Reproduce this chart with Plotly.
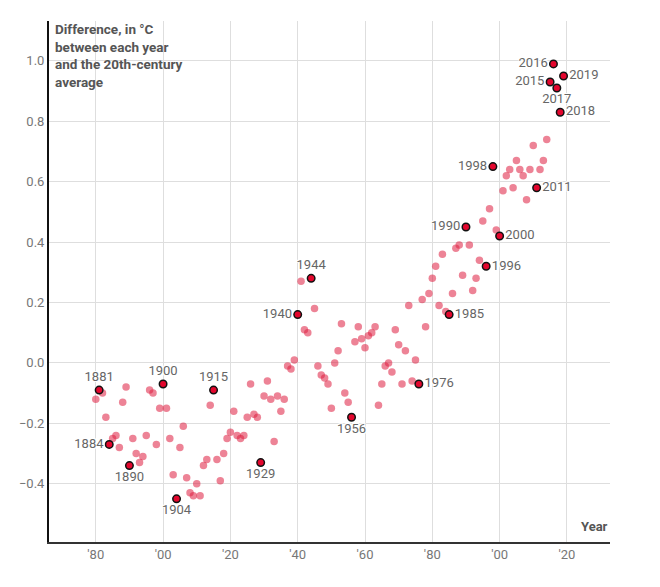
import plotly.graph_objects as go

years = list(range(1880, 2020))
anomalies = [
    -0.12, -0.09, -0.10, -0.18, -0.27, -0.25, -0.24, -0.28, -0.13, -0.08,  # 1880s
    -0.34, -0.25, -0.30, -0.33, -0.31, -0.24, -0.09, -0.10, -0.27, -0.15,  # 1890s
    -0.07, -0.15, -0.25, -0.37, -0.45, -0.28, -0.21, -0.38, -0.43, -0.44,  # 1900s
    -0.40, -0.44, -0.34, -0.32, -0.14, -0.09, -0.32, -0.39, -0.30, -0.25,  # 1910s
    -0.23, -0.16, -0.24, -0.25, -0.24, -0.18, -0.07, -0.17, -0.18, -0.33,  # 1920s
    -0.11, -0.06, -0.12, -0.26, -0.11, -0.16, -0.12, -0.01, -0.02, 0.01,   # 1930s
    0.16, 0.27, 0.11, 0.10, 0.28, 0.18, -0.01, -0.04, -0.05, -0.07,        # 1940s
    -0.15, 0.00, 0.04, 0.13, -0.10, -0.13, -0.18, 0.07, 0.12, 0.08,        # 1950s
    0.05, 0.09, 0.10, 0.12, -0.14, -0.07, -0.01, 0.00, -0.03, 0.11,        # 1960s
    0.06, -0.07, 0.04, 0.19, -0.06, 0.01, -0.07, 0.21, 0.12, 0.23,         # 1970s
    0.28, 0.32, 0.19, 0.36, 0.17, 0.16, 0.23, 0.38, 0.39, 0.29,            # 1980s
    0.45, 0.39, 0.24, 0.28, 0.34, 0.47, 0.32, 0.51, 0.65, 0.44,            # 1990s
    0.42, 0.57, 0.62, 0.64, 0.58, 0.67, 0.64, 0.62, 0.54, 0.64,            # 2000s
    0.72, 0.58, 0.64, 0.67, 0.74, 0.93, 0.99, 0.91, 0.83, 0.95,            # 2010s
]

highlight_years = [1881, 1884, 1890, 1900, 1904, 1915, 1929, 1940, 1944, 1956,
                   1976, 1985, 1990, 1996, 1998, 2000, 2011, 2015, 2016, 2017,
                   2018, 2019]

tick_years = [1880, 1900, 1920, 1940, 1960, 1980, 2000, 2020]
tick_labels = ["'80", "'00", "'20", "'40", "'60", "'80", "'00", "'20"]
y_ticks = [-0.4, -0.2, 0.0, 0.2, 0.4, 0.6, 0.8, 1.0]

# label placement (style)
label_pos = {
    1881: "top center", 1884: "middle left", 1890: "bottom center",
    1900: "top center", 1904: "bottom center", 1915: "top center",
    1929: "bottom center", 1940: "middle left", 1944: "top center",
    1956: "bottom center", 1976: "middle right", 1985: "middle right",
    1990: "middle left", 1996: "middle right", 1998: "middle left",
    2000: "middle right", 2011: "middle right", 2015: "middle left",
    2016: "middle left", 2017: "bottom center", 2018: "middle right",
    2019: "middle right",
}

lookup = dict(zip(years, anomalies))
base_x = [y for y in years if y not in highlight_years]
base_y = [lookup[y] for y in base_x]
hi_y = [lookup[y] for y in highlight_years]

fig = go.Figure()
fig.add_trace(go.Scatter(
    x=base_x, y=base_y, mode="markers",
    marker=dict(size=7.5, color="rgba(222,30,64,0.55)", line=dict(width=0)),
    hoverinfo="x+y", showlegend=False,
))
fig.add_trace(go.Scatter(
    x=highlight_years, y=hi_y, mode="markers+text",
    text=[str(y) for y in highlight_years],
    textposition=[label_pos[y] for y in highlight_years],
    textfont=dict(family="Roboto", size=13, color="#666",
                  shadow="1px 1px 0 #fff, -1px -1px 0 #fff, 1px -1px 0 #fff, -1px 1px 0 #fff"),
    marker=dict(size=7.5, color="#e3062d", line=dict(width=1.5, color="#111")),
    hoverinfo="x+y", showlegend=False, cliponaxis=False,
))

fig.update_layout(
    width=652, height=579,
    margin=dict(l=41, r=50, t=13, b=45),
    paper_bgcolor="white", plot_bgcolor="white",
    font=dict(family="Roboto", size=13, color="#666"),
    xaxis=dict(
        range=[1866.1, 2032.8], tickvals=tick_years, ticktext=tick_labels,
        showgrid=True, gridcolor="#dedede", gridwidth=1,
        showline=True, linecolor="#333", linewidth=1.5,
        zeroline=False, ticks="", tickfont=dict(size=13, color="#777"),
        automargin=False,
    ),
    yaxis=dict(
        range=[-0.593, 1.132], tickvals=y_ticks, tickformat=".1f",
        showgrid=True, gridcolor="#dedede", gridwidth=1,
        showline=True, linecolor="#111", linewidth=2,
        zeroline=False, ticks="", tickfont=dict(size=13, color="#777"),
        automargin=False,
    ),
    annotations=[
        dict(xref="paper", yref="paper", x=0, y=1, xanchor="left", yanchor="top",
             xshift=4, yshift=2, align="left", showarrow=False,
             text="<b>Difference, in °C<br>between each year<br>and the 20th-century<br>average</b>",
             font=dict(family="Roboto", size=13.5, color="#555")),
        dict(xref="paper", yref="paper", x=1, y=0, xanchor="right", yanchor="bottom",
             yshift=6, showarrow=False, text="<b>Year</b>",
             font=dict(family="Roboto", size=13, color="#555")),
    ],
)

fig.write_html("out.html")
